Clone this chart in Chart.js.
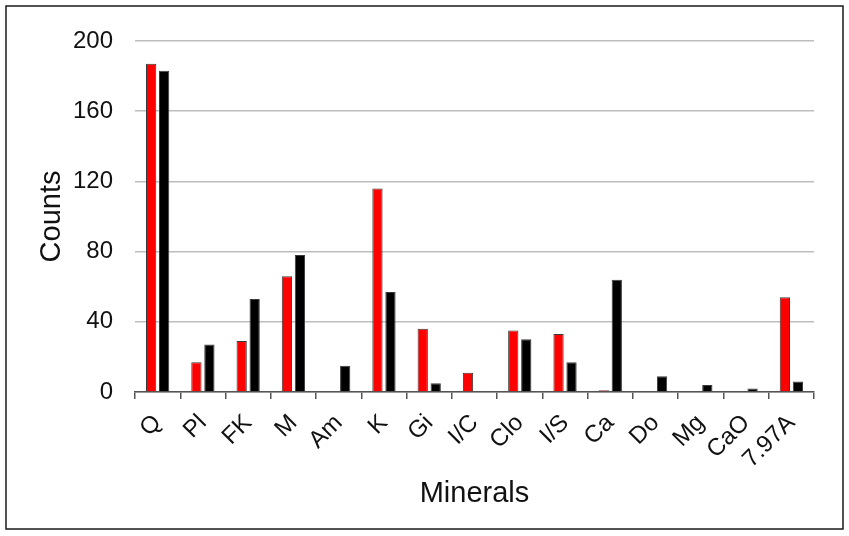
<!DOCTYPE html>
<html>
<head>
<meta charset="utf-8">
<script src="https://cdn.jsdelivr.net/npm/chart.js@4"></script>
<style>
  html, body { margin: 0; padding: 0; background: #fff; }
  #wrap { position: absolute; left: 0; top: 0; width: 849px; height: 536px; }
</style>
</head>
<body>
<div id="wrap"><canvas id="c" width="849" height="536"></canvas></div>
<script>
const categories = ["Q", "Pl", "FK", "M", "Am", "K", "Gi", "I/C", "Clo", "I/S", "Ca", "Do", "Mg", "CaO", "7.97A"];
const redSeries = [187, 17, 29, 66, 0, 116, 36, 11, 35, 33, 1, 0, 0, 0, 54];
const blackSeries = [183, 27, 53, 78, 15, 57, 5, 0, 30, 17, 64, 9, 4, 2, 6];
const yTicks = [0, 40, 80, 120, 160, 200];

const framePlugin = {
  id: 'frame',
  afterDraw(chart) {
    const ctx = chart.ctx;
    ctx.save();
    ctx.strokeStyle = '#1a1a1a';
    ctx.lineWidth = 1.5;
    ctx.strokeRect(6, 6, 837, 523);
    ctx.restore();
  }
};

const FONT = 'Liberation Sans, Arial, sans-serif';

new Chart(document.getElementById('c'), {
  type: 'bar',
  data: {
    labels: categories,
    datasets: [
      { data: redSeries, backgroundColor: '#ff0000', borderColor: '#3a3a3a', borderWidth: 1, borderSkipped: 'start' },
      { data: blackSeries, backgroundColor: '#000000', borderColor: '#3a3a3a', borderWidth: 1, borderSkipped: 'start' }
    ]
  },
  options: {
    responsive: false,
    animation: false,
    devicePixelRatio: 1,
    layout: { padding: { top: 41, right: 35, left: 0, bottom: 0 } },
    datasets: { bar: { categoryPercentage: 0.574, barPercentage: 0.79 } },
    plugins: { legend: { display: false }, tooltip: { enabled: false } },
    scales: {
      x: {
        offset: true,
        grid: { offset: true, drawOnChartArea: false, drawTicks: true, tickLength: 7, tickColor: '#555', lineWidth: 1.5 },
        border: { display: true, color: '#555', width: 1.5 },
        ticks: {
          minRotation: 45, maxRotation: 45, autoSkip: false, padding: 10,
          color: '#111', font: { family: FONT, size: 24 }
        },
        title: {
          display: true, text: 'Minerals', color: '#111',
          font: { family: FONT, size: 29 },
          padding: { top: 0, bottom: 25 }
        },
        afterFit(scale) { scale.height = 144; }
      },
      y: {
        min: 0, max: 200,
        afterBuildTicks(scale) { scale.ticks = yTicks.map(v => ({ value: v })); },
        grid: { color: '#bdbdbd', lineWidth: 1.5, drawTicks: false },
        border: { display: false },
        ticks: {
          padding: 22, color: '#111',
          font: { family: FONT, size: 24 }
        },
        title: {
          display: true, text: 'Counts', color: '#111',
          font: { family: FONT, size: 29 },
          padding: { top: 35, bottom: 0 }
        },
        afterFit(scale) { scale.width = 135; }
      }
    }
  },
  plugins: [framePlugin]
});
</script>
</body>
</html>
